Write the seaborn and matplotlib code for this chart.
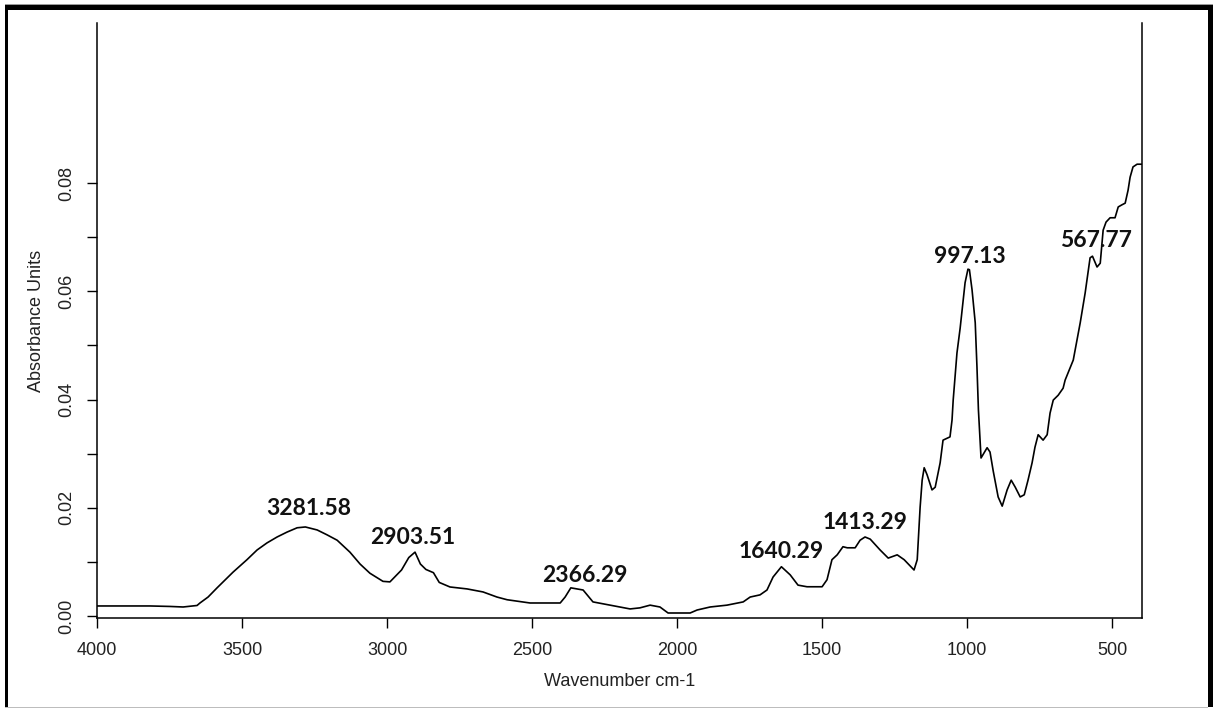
import numpy as np
import matplotlib
matplotlib.use("Agg")
import matplotlib.pyplot as plt
from matplotlib.patches import Rectangle
from matplotlib.ticker import FixedLocator, FuncFormatter
import seaborn as sns

# FTIR absorbance spectrum (wavenumber in cm-1, absorbance units)
wavenumber = [
    4000, 3817, 3748, 3703, 3655, 3645, 3617, 3586, 3531, 3483, 3448,
    3414, 3379, 3345, 3310, 3281.58, 3241, 3207, 3172, 3128, 3093, 3059,
    3014, 2990, 2950, 2925, 2903.51, 2885, 2866, 2840, 2820, 2783, 2724,
    2669, 2621, 2586, 2507, 2403, 2386, 2366.29, 2324, 2290, 2231, 2162,
    2128, 2093, 2059, 2031, 1955, 1931, 1886, 1828, 1772, 1748, 1714,
    1690, 1669, 1640.29, 1610, 1583, 1552, 1500, 1483, 1466, 1448, 1428,
    1413.29, 1386, 1369, 1352, 1334, 1300, 1272, 1241, 1217, 1183, 1172,
    1162, 1155, 1148, 1138, 1121, 1110, 1093, 1083, 1059, 1052, 1048,
    1035, 1024, 1017, 1007, 997.13, 992, 983, 972, 966, 961, 952, 931,
    921, 910, 893, 879, 862, 848, 834, 817, 803, 790, 776, 766, 755, 738,
    724, 714, 703, 686, 669, 662, 634, 610, 593, 576, 567.77, 552, 541,
    531, 521, 507, 490, 479, 466, 455, 445, 438, 428, 414, 397,
]
absorbance = [
    0.00185, 0.00185, 0.00176, 0.00166, 0.00194, 0.0024, 0.0035, 0.0052,
    0.0081, 0.0104, 0.0122, 0.0135, 0.0146, 0.0155, 0.0163, 0.01645,
    0.0159, 0.0150, 0.0140, 0.0118, 0.0096, 0.0079, 0.0064, 0.0063,
    0.0085, 0.0108, 0.0118, 0.0096, 0.0086, 0.0080, 0.0062, 0.00536,
    0.0050, 0.00444, 0.0035, 0.0030, 0.0024, 0.0024, 0.0035, 0.0052,
    0.0048, 0.0026, 0.0020, 0.0013, 0.0015, 0.0020, 0.00166, 0.00055,
    0.00055, 0.0011, 0.00166, 0.0020, 0.0026, 0.0035, 0.0039, 0.0048,
    0.0072, 0.0091, 0.0076, 0.0057, 0.0054, 0.0054, 0.0067, 0.0104,
    0.0113, 0.0128, 0.0126, 0.0126, 0.0140, 0.0146, 0.0142, 0.0122,
    0.0107, 0.0113, 0.0104, 0.0085, 0.0104, 0.0201, 0.0251, 0.0274,
    0.0261, 0.0233, 0.0238, 0.0283, 0.0325, 0.0331, 0.0362, 0.0399,
    0.0486, 0.0532, 0.0566, 0.0616, 0.0641, 0.0640, 0.0603, 0.0542,
    0.0460, 0.0381, 0.0292, 0.0311, 0.0303, 0.0268, 0.0220, 0.0203,
    0.0233, 0.0251, 0.0238, 0.0220, 0.0224, 0.0251, 0.0283, 0.0312,
    0.0335, 0.0325, 0.0335, 0.0375, 0.0399, 0.0408, 0.0421, 0.0436,
    0.0473, 0.0542, 0.0597, 0.0662, 0.0665, 0.0645, 0.0652, 0.0713,
    0.0728, 0.0736, 0.0736, 0.0756, 0.0760, 0.0763, 0.0787, 0.0811,
    0.0830, 0.0835, 0.0835,
]

# Labelled band positions (cm-1)
peak_wavenumbers = [3281.58, 2903.51, 2366.29, 1640.29, 1413.29, 997.13, 567.77]

# Axis ticks
x_ticks = [4000, 3500, 3000, 2500, 2000, 1500, 1000, 500]
y_major_ticks = [0.00, 0.02, 0.04, 0.06, 0.08]
y_minor_ticks = [0.01, 0.03, 0.05, 0.07]

sns.set_theme(style="ticks")
plt.rcParams["font.family"] = ["Liberation Sans", "DejaVu Sans"]

W, H = 1217, 709
fig = plt.figure(figsize=(W / 100, H / 100), dpi=100)
fig.patch.set_facecolor("white")
ax = fig.add_axes([97 / W, 90.7 / H, (1142 - 97) / W, (618.3 - 23) / H])

sns.lineplot(x=wavenumber, y=absorbance, ax=ax, color="black",
             linewidth=1.2, sort=False, estimator=None)

ax.set_xlim(4000, 397)
ax.set_ylim(-0.00043, 0.1096)

ax.xaxis.set_major_locator(FixedLocator(x_ticks))
ax.xaxis.set_major_formatter(FuncFormatter(lambda v, p: f"{v:.0f}"))
ax.yaxis.set_major_locator(FixedLocator(y_major_ticks))
ax.yaxis.set_minor_locator(FixedLocator(y_minor_ticks))
ax.yaxis.set_major_formatter(FuncFormatter(lambda v, p: f"{v:.2f}"))

ax.tick_params(axis="both", which="both", direction="out", length=7,
               width=1.0, color="black", labelsize=13, labelcolor="#222222")
ax.tick_params(axis="x", pad=10)
ax.tick_params(axis="y", pad=9)
for lab in ax.get_yticklabels():
    lab.set_rotation(90)
    lab.set_va("center")

for side in ("left", "bottom", "right"):
    ax.spines[side].set_visible(True)
    ax.spines[side].set_linewidth(1.1)
    ax.spines[side].set_color("black")
ax.spines["top"].set_visible(False)

ax.set_xlabel("Wavenumber cm-1", fontsize=13, color="#222222", labelpad=10)
ax.set_ylabel("Absorbance Units", fontsize=13, color="#222222", labelpad=9)

# Band labels placed just above each peak
label_offsets = [(3, 12), (-2, 8), (14, 6), (0, 9), (18, 19), (2, 6), (4, 9)]
wn_asc = np.array(wavenumber)[::-1]
ab_asc = np.array(absorbance)[::-1]
for w, (dx, dy) in zip(peak_wavenumbers, label_offsets):
    a = float(np.interp(w, wn_asc, ab_asc))
    ax.annotate(f"{w:.2f}", xy=(w, a), xytext=(dx, dy),
                textcoords="offset pixels", ha="center", va="baseline",
                fontsize=16.5, fontweight="bold", color="#111111",
                family=["Lato", "DejaVu Sans"])

# Outer frame around the figure
def frame_rect(x0, y0, x1, y1, color):
    fig.add_artist(Rectangle((x0 / W, 1 - y1 / H), (x1 - x0) / W,
                             (y1 - y0) / H, transform=fig.transFigure,
                             facecolor=color, edgecolor="none"))

frame_rect(5, 4, 1213, 5, "#9a9a9a")
frame_rect(5, 5, 1213, 10, "black")
frame_rect(5, 5, 8, 707, "black")
frame_rect(1208, 5, 1213, 707, "black")
frame_rect(5, 706.5, 1208, 707.7, "#bdbdbd")

fig.savefig("out.png", dpi=100)
